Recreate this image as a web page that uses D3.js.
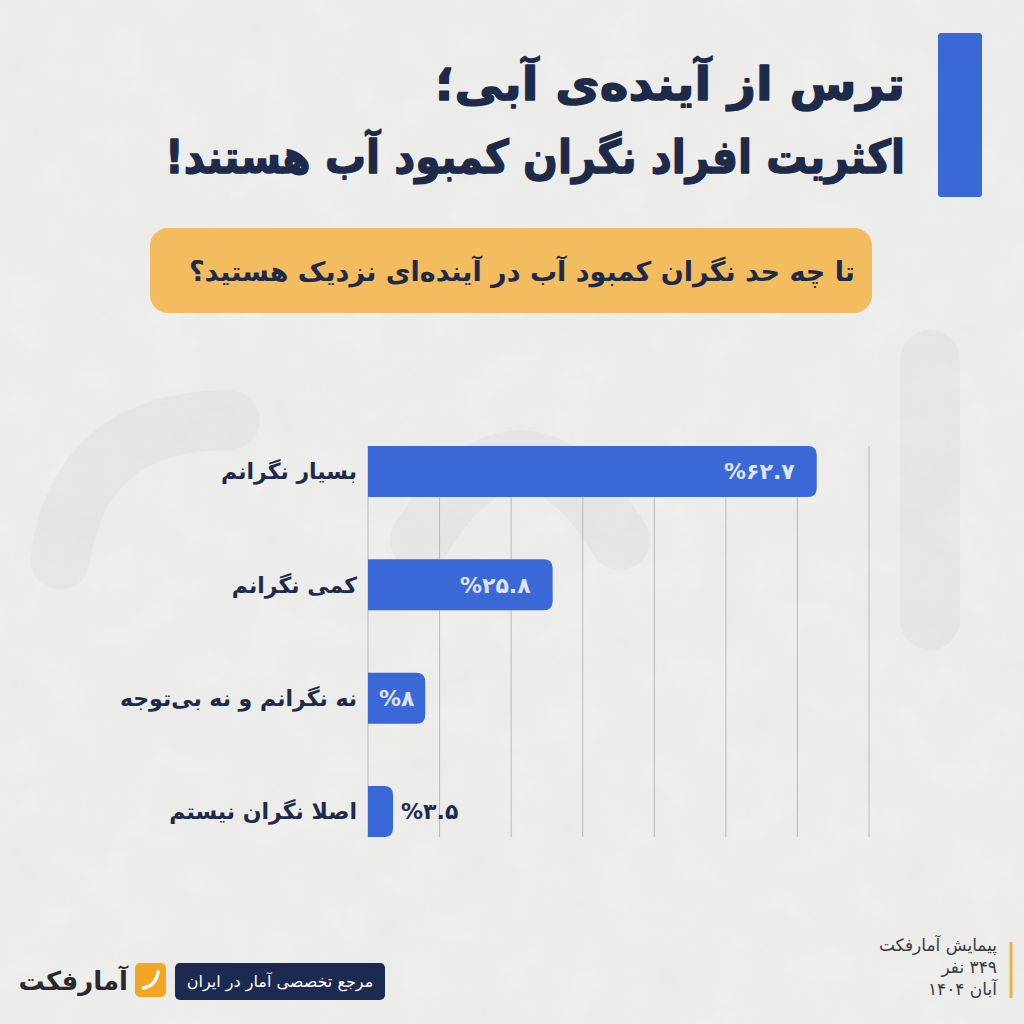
<!DOCTYPE html>
<html lang="fa">
<head>
<meta charset="utf-8">
<script src="https://cdn.jsdelivr.net/npm/d3@7"></script>
<style>
  html, body { margin: 0; padding: 0; background: #eeeeec; }
  svg { display: block; }
  text { font-family: "DejaVu Sans", "Noto Sans", sans-serif; }
</style>
</head>
<body>
<svg id="chart" width="1024" height="1024"></svg>
<script>
// ---- data ----
const categories = ["بسیار نگرانم", "کمی نگرانم", "نه نگرانم و نه بی‌توجه", "اصلا نگران نیستم"];
const values = [62.7, 25.8, 8, 3.5];
const xTicks = [0, 10, 20, 30, 40, 50, 60, 70];
const titleLines = ["ترس از آینده‌ی آبی؛", "اکثریت افراد نگران کمبود آب هستند!"];
const question = "تا چه حد نگران کمبود آب در آینده‌ای نزدیک هستید؟";
const footerNotes = ["پیمایش آمارفکت", "۳۴۹ نفر", "آبان ۱۴۰۴"];
const footerTag = "مرجع تخصصی آمار در ایران";
const brand = "آمارفکت";

const fa = s => String(s).replace(/[0-9]/g, d => "۰۱۲۳۴۵۶۷۸۹"[+d]);

const svg = d3.select("#chart");
const W = 1024, H = 1024;
const navy = "#1e2a4a", blue = "#3a69d7";

// background with paper texture
const defs = svg.append("defs");
const f = defs.append("filter").attr("id", "paper").attr("x", 0).attr("y", 0).attr("width", "100%").attr("height", "100%");
f.append("feTurbulence").attr("type", "fractalNoise").attr("baseFrequency", 0.02).attr("numOctaves", 4).attr("seed", 3).attr("result", "n");
f.append("feColorMatrix").attr("in", "n").attr("type", "matrix")
  .attr("values", "0 0 0 0 0  0 0 0 0 0  0 0 0 0 0  0 0 0 0.10 0").attr("result", "a");
f.append("feComposite").attr("in", "a").attr("in2", "SourceGraphic").attr("operator", "over");
svg.append("rect").attr("width", W).attr("height", H).attr("fill", "#f0f0ee");
svg.append("rect").attr("width", W).attr("height", H).attr("fill", "#f0f0ee").attr("filter", "url(#paper)").attr("opacity", 0.6);

// faint watermark shapes (logo ghost)
const wm = svg.append("g").attr("fill", "none").attr("stroke", "#000").attr("stroke-opacity", 0.028).attr("stroke-width", 60).attr("stroke-linecap", "round");
wm.append("path").attr("d", "M60,560 Q80,420 230,420");
wm.append("path").attr("d", "M420,540 Q520,380 620,540");
wm.append("path").attr("d", "M930,360 L930,620");

// title
svg.append("rect").attr("x", 938).attr("y", 33).attr("width", 44).attr("height", 164).attr("rx", 3).attr("fill", blue);
const tl = [470, 740];
svg.selectAll("text.title").data(titleLines).join("text").attr("class", "title")
  .attr("x", 905).attr("y", (d, i) => 100 + i * 73)
  .attr("text-anchor", "start").attr("direction", "rtl")
  .attr("font-size", 46).attr("font-weight", 700).attr("fill", navy)
  .attr("stroke", navy).attr("stroke-width", 1.4).attr("stroke-linejoin", "round")
  .attr("textLength", (d, i) => tl[i]).attr("lengthAdjust", "spacingAndGlyphs")
  .text(d => d);

// question box
svg.append("rect").attr("x", 150).attr("y", 228).attr("width", 722).attr("height", 85).attr("rx", 18).attr("fill", "#f2bc5f");
svg.append("text").attr("x", 855).attr("y", 281).attr("direction", "rtl").attr("text-anchor", "start")
  .attr("font-size", 27).attr("font-weight", 700).attr("fill", navy).text(question);

// chart
const x = d3.scaleLinear().domain([0, 70]).range([368, 869]);
const y = d3.scaleBand().domain(categories).range([446, 837]).paddingInner(0.55).paddingOuter(0);

const grid = svg.append("g");
grid.selectAll("line").data(xTicks).join("line")
  .attr("x1", d => x(d)).attr("x2", d => x(d))
  .attr("y1", y.range()[0]).attr("y2", y.range()[1])
  .attr("stroke", "#b9b9b9").attr("stroke-width", 1);

const r = 9;
const barPath = (v, c) => {
  const x0 = x(0), x1 = x(v), y0 = y(c), y1 = y0 + y.bandwidth();
  const rr = Math.min(r, (x1 - x0) / 2);
  return `M${x0},${y0}H${x1 - rr}Q${x1},${y0} ${x1},${y0 + rr}V${y1 - rr}Q${x1},${y1} ${x1 - rr},${y1}H${x0}Z`;
};
const data = categories.map((c, i) => ({ c, v: values[i] }));
svg.append("g").selectAll("path").data(data).join("path")
  .attr("d", d => barPath(d.v, d.c)).attr("fill", blue);

// category labels
svg.append("g").selectAll("text").data(data).join("text")
  .attr("x", 357).attr("y", d => y(d.c) + y.bandwidth() / 2)
  .attr("dy", "0.35em").attr("text-anchor", "end").attr("direction", "ltr")
  .attr("font-size", 22).attr("font-weight", 700).attr("fill", navy)
  .text(d => d.c);

// value labels
svg.append("g").selectAll("text").data(data).join("text")
  .each(function (d) {
    const w = x(d.v) - x(0);
    const t = d3.select(this);
    let px, anchor, fill;
    if (w > 100) { px = x(d.v) - 22; anchor = "end"; fill = "#dfe3f2"; }
    else if (w > 45) { px = (x(0) + x(d.v)) / 2; anchor = "middle"; fill = "#dfe3f2"; }
    else { px = x(d.v) + 8; anchor = "start"; fill = navy; }
    t.attr("x", px).attr("text-anchor", anchor).attr("fill", fill);
  })
  .attr("y", d => y(d.c) + y.bandwidth() / 2).attr("dy", "0.36em")
  .attr("direction", "ltr").attr("font-size", 22).attr("font-weight", 700)
  .text(d => "%" + fa(d.v));

// footer left
svg.append("rect").attr("x", 175).attr("y", 963).attr("width", 210).attr("height", 37).attr("rx", 5).attr("fill", "#1d2a50");
svg.append("text").attr("x", 280).attr("y", 987).attr("text-anchor", "middle").attr("direction", "rtl")
  .attr("font-size", 16).attr("fill", "#ffffff").text(footerTag);
svg.append("rect").attr("x", 135).attr("y", 963).attr("width", 31).attr("height", 34).attr("rx", 5).attr("fill", "#f3a623");
svg.append("path").attr("d", "M143,988 Q156,986 158,972").attr("fill", "none").attr("stroke", "#fff").attr("stroke-width", 3.5).attr("stroke-linecap", "round");
svg.append("text").attr("x", 128).attr("y", 990).attr("text-anchor", "end").attr("direction", "ltr")
  .attr("font-size", 26).attr("font-weight", 700).attr("fill", "#2a2a2e").text(brand);

// footer right
svg.append("line").attr("x1", 1011).attr("x2", 1011).attr("y1", 942).attr("y2", 998).attr("stroke", "#f0b03a").attr("stroke-width", 3);
svg.append("g").selectAll("text").data(footerNotes).join("text")
  .attr("x", 997).attr("y", (d, i) => 951 + i * 22).attr("text-anchor", "start").attr("direction", "rtl")
  .attr("font-size", 17).attr("fill", "#3a3a3e").text(d => d);
</script>
</body>
</html>
